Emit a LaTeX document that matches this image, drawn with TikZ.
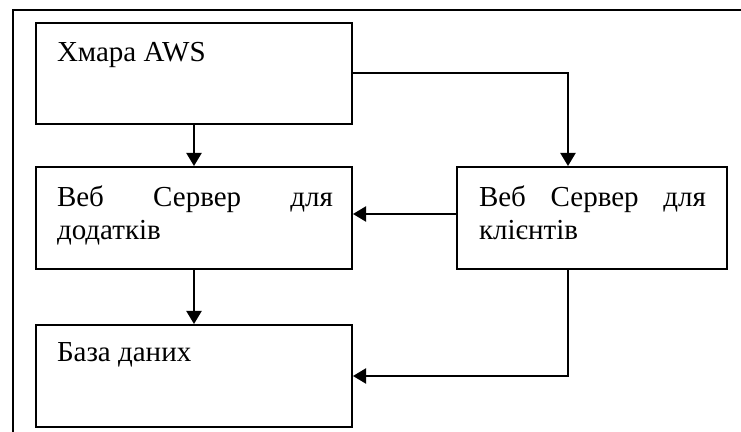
\documentclass[tikz,border=0pt]{standalone}
\usepackage{fontspec}
\setmainfont{Liberation Serif}
\usetikzlibrary{arrows.meta}
\tolerance=10000
\hyphenpenalty=10000
\begin{document}
\begin{tikzpicture}[>={Triangle[length=6.5pt, width=7.5pt]}, x=0.5pt, y=-0.5pt, line width=1pt,
    font=\fontsize{14.5}{16.5}\selectfont]
    \useasboundingbox (0,0) rectangle (741,432);
    % рамка
    \draw (741,10) -- (13,10) -- (13,432);

    % Хмара AWS
    \node[draw, minimum width=158pt, minimum height=50.5pt] (cloud) at (194,73.5) {};
    \node[anchor=base west, inner sep=0pt] (cloudtxt) at (56,62) {Хмара AWS};

    % сервер для додатків
    \node[draw, minimum width=158pt, minimum height=51pt] (appsrv) at (194,218) {};
    \node[anchor=north west, inner sep=0pt, text width=138pt, align=justify] (apptxt) at (56,185) {Веб Сервер для додатків};

    % сервер для клієнтів
    \node[draw, minimum width=135pt, minimum height=51pt] (clisrv) at (592,218) {};
    \node[anchor=north west, inner sep=0pt, text width=113.5pt, align=justify] (clitxt) at (478,185) {Веб Сервер для клієнтів};

    % база даних
    \node[draw, minimum width=158pt, minimum height=51pt] (db) at (194,376) {};
    \node[anchor=base west, inner sep=0pt] (dbtxt) at (56,362) {База даних};

    % стрілки
    \coordinate (bend) at (568,73.5);
    \draw[->] (cloud.south) -- (appsrv.north);
    \draw[->] (cloud.east) -- (bend) -- (bend |- clisrv.north);
    \draw[->] ([yshift=2pt]clisrv.west) -- ([yshift=2pt]appsrv.east);
    \draw[->] (appsrv.south) -- (db.north);
    \draw[->] (bend |- clisrv.south) |- (db.east);
\end{tikzpicture}
\end{document}
